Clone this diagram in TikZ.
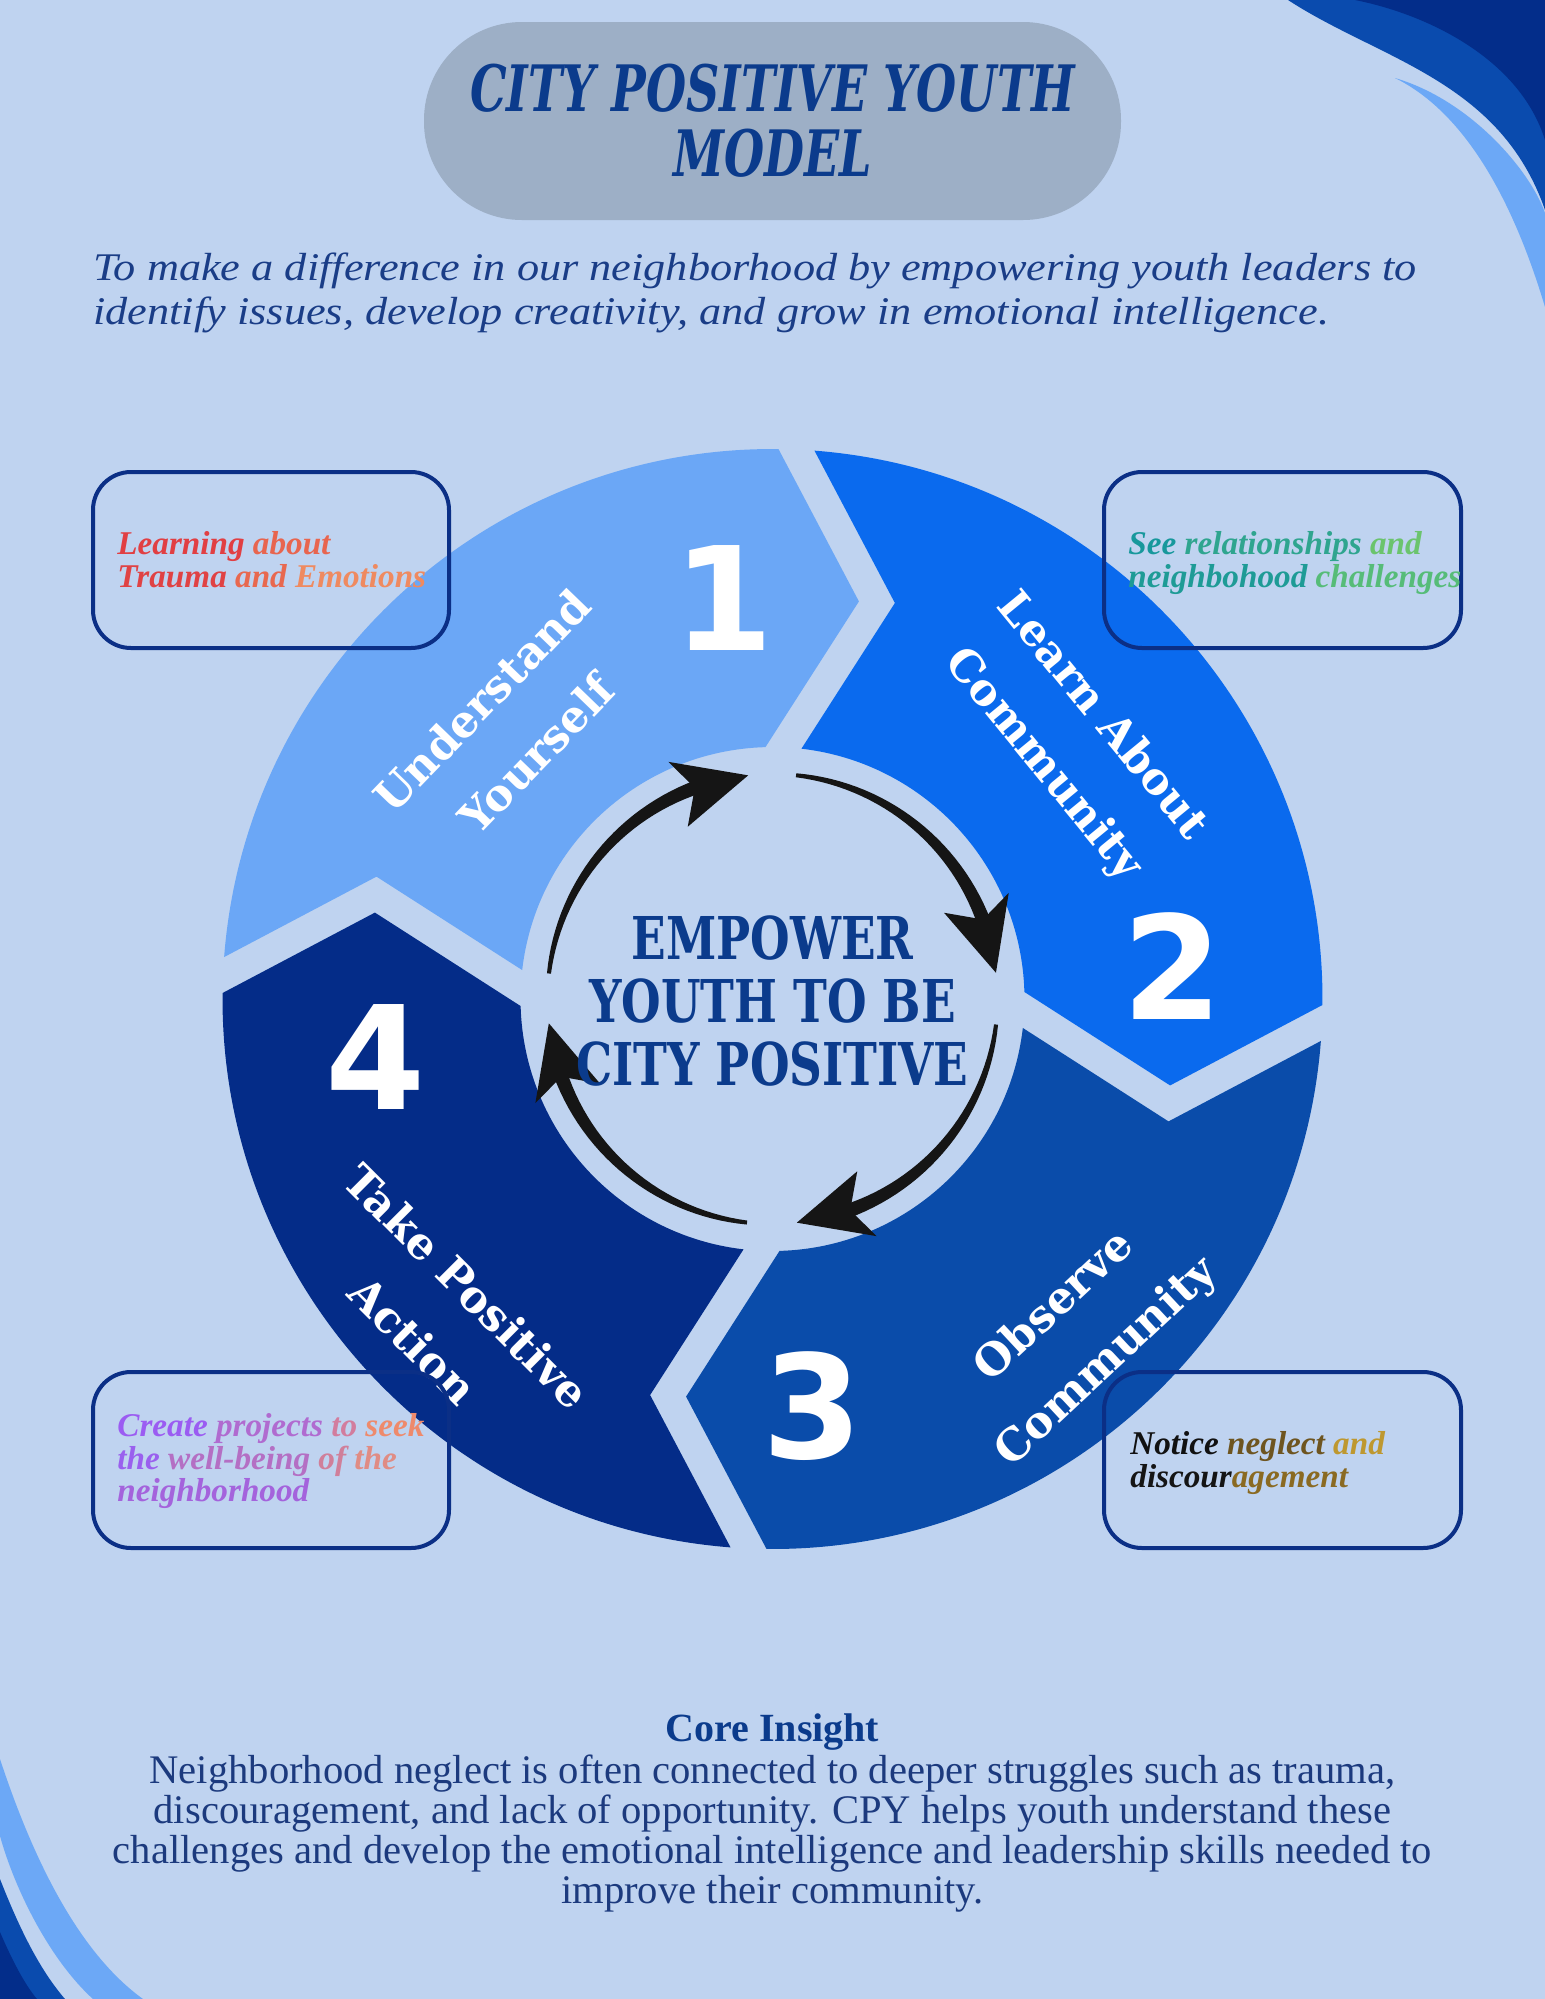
\documentclass[tikz,border=0pt]{standalone}
\usepackage{fontspec}
\setmainfont{Liberation Serif}
\newfontfamily\slabfont{DejaVu Serif}
\newfontfamily\slabnarrow{DejaVu Serif}[FakeStretch=0.77]
\newfontfamily\titlefont{DejaVu Serif}[FakeStretch=0.72]
\newfontfamily\leadfont{Liberation Serif}[FakeStretch=1.13]
\newfontfamily\numfont{DejaVu Sans}
\usetikzlibrary{calc}

\definecolor{pagebg}{HTML}{BFD3F0}
\definecolor{pillgray}{HTML}{9DAFC6}
\definecolor{navytext}{HTML}{0B3B8C}
\definecolor{leadblue}{HTML}{1A3D87}
\definecolor{bodytext}{HTML}{1C3A7E}
\definecolor{segone}{HTML}{6BA7F6}
\definecolor{segtwo}{HTML}{0A6AEE}
\definecolor{segthree}{HTML}{0A4CAA}
\definecolor{segfour}{HTML}{042C88}
\definecolor{swoopmid}{HTML}{0A4BAE}
\definecolor{swoopdark}{HTML}{032D8A}
\definecolor{swooplight}{HTML}{6CA8F6}
\definecolor{boxline}{HTML}{0B2F86}
\definecolor{arrowink}{HTML}{151515}

% ring part: #1 notched end, #2 pointed end, #3 colour
\newcommand{\ringpart}[3]{%
  \fill[#3] ($(hub)+({#1-1.875}:550)$) arc[start angle=#1-1.875, end angle=#2+1.875, radius=550]
    -- ($(hub)+({#2}:401)+({#2-90}:69)$) -- ($(hub)+({#2+4.1}:252)$)
    arc[start angle=#2+4.1, end angle=#1-4.1, radius=252]
    -- ($(hub)+({#1}:401)+({#1-90}:105)$) -- cycle;}

% curved arrow round the hub, #1 = angle of the tip
\newcommand{\looparrow}[1]{%
  \fill[arrowink] plot[domain=0:1, samples=30] ({#1+13+64.3*\x}:{232-5*\x})
    -- plot[domain=0:1, samples=30] ({#1+77.3-64.3*\x}:{223-5*\x}) -- cycle;
  \fill[arrowink] ({#1}:225) -- ({#1+17.5}:259) -- ({#1+14}:225) -- ({#1+20}:192) -- cycle;}

\begin{document}
\begin{tikzpicture}[x=0.5pt,y=0.5pt,
  steplabel/.style={text=white, align=center, inner sep=0pt, font=\fontsize{22}{38}\selectfont\slabfont\bfseries},
  stepnum/.style={text=white, inner sep=0pt, font=\fontsize{72}{72}\selectfont\numfont\bfseries},
  notebox/.style={draw=boxline, line width=2pt, rounded corners=19pt},
  notetext/.style={anchor=north west, align=left, inner sep=0pt, font=\fontsize{16.6}{16.3}\selectfont\bfseries\itshape}]
	\useasboundingbox (0,0) rectangle (1545,-1999);
	\fill[pagebg] (0,0) rectangle (1545,-1999);
	
	% corner swoops
	\fill[swoopmid] (1288,0) .. controls (1380,-60) and (1500,-80) .. (1545,-210) -- (1545,0) -- cycle;
	\fill[swoopdark] (1355,0) .. controls (1430,-15) and (1520,-60) .. (1545,-140) -- (1545,0) -- cycle;
	\fill[swooplight] (1395,-78) .. controls (1470,-100) and (1530,-170) .. (1545,-213) -- (1545,-307) .. controls (1510,-190) and (1460,-110) .. (1395,-78) -- cycle;
	\fill[swooplight] (0,-1759) .. controls (30,-1850) and (75,-1950) .. (143,-1999) -- (93,-1999) .. controls (50,-1960) and (15,-1890) .. (0,-1836) -- cycle;
	\fill[swoopmid] (0,-1879) .. controls (20,-1930) and (40,-1970) .. (65,-1999) -- (0,-1999) -- cycle;
	\fill[swoopdark] (0,-1932) .. controls (12,-1960) and (25,-1985) .. (37,-1999) -- (0,-1999) -- cycle;
	
	% heading
	\fill[pillgray, rounded corners=49pt] (424,-22) rectangle (1121,-220);
	\node[text=navytext, align=center, inner sep=0pt, font=\fontsize{32}{32.5}\selectfont\titlefont\bfseries\itshape] (title) at (772.5,-121) {CITY POSITIVE YOUTH\\MODEL};
	\node[anchor=north west, align=left, inner sep=0pt, text=leadblue, font=\fontsize{19.6}{22}\selectfont\leadfont\itshape] (mission) at (93,-252) {To make a difference in our neighborhood by empowering youth leaders to\\identify issues, develop creativity, and grow in emotional intelligence.};
	
	% cycle ring
	\coordinate (hub) at (772.5,-999);
	\ringpart{177.5}{87.5}{segone}
	\ringpart{87.5}{-2.5}{segtwo}
	\ringpart{-2.5}{-92.5}{segthree}
	\ringpart{-92.5}{-182.5}{segfour}
	
	\begin{scope}[shift={(hub)}]
		\looparrow{96.2}
		\looparrow{6.7}
		\looparrow{-83.8}
		\looparrow{-173.8}
	\end{scope}
	
	\node[text=navytext, align=center, inner sep=0pt, font=\fontsize{29.5}{31.5}\selectfont\slabnarrow\bfseries] (core) at (772.5,-1001) {EMPOWER\\YOUTH TO BE\\CITY POSITIVE};
	
	\node[steplabel, rotate=46] (lbl1) at (509,-727) {Understand\\Yourself};
	\node[steplabel, rotate=-50.6] (lbl2) at (1072,-741) {Learn About\\Community};
	\node[steplabel, rotate=43] (lbl3) at (1081,-1335) {Observe\\Community};
	\node[steplabel, rotate=-45] (lbl4) at (440,-1313) {Take Positive\\Action};
	
	\node[stepnum] (num1) at (724,-598) {1};
	\node[stepnum] (num2) at (1173,-966) {2};
	\node[stepnum] (num3) at (813,-1406) {3};
	\node[stepnum] (num4) at (376,-1057) {4};
	
	% side notes
	\draw[notebox] (93,-472) rectangle (449,-648);
	\draw[notebox] (1104,-472) rectangle (1461,-648);
	\draw[notebox] (93,-1372) rectangle (449,-1548);
	\draw[notebox] (1104,-1372) rectangle (1461,-1548);
	
	\node[notetext] (note1) at (117,-531) {\textcolor[HTML]{E13F43}{Learning} \textcolor[HTML]{E8654F}{about}\\\textcolor[HTML]{E04244}{Trauma} \textcolor[HTML]{E8684F}{and} \textcolor[HTML]{EF8A60}{Emotions}};
	\node[notetext] (note2) at (1128,-531) {\textcolor[HTML]{17989C}{See} \textcolor[HTML]{2FA58F}{relationships} \textcolor[HTML]{6BC46D}{and}\\\textcolor[HTML]{1E9B96}{neighbohood} \textcolor[HTML]{56BC78}{challenges}};
	\node[notetext] (note3) at (117,-1413) {\textcolor[HTML]{9B5CF2}{Create} \textcolor[HTML]{B06BD0}{projects} \textcolor[HTML]{D27D9E}{to} \textcolor[HTML]{EE8A6C}{seek}\\\textcolor[HTML]{9A60EE}{the} \textcolor[HTML]{B46FC4}{well-being} \textcolor[HTML]{D07F9A}{of} \textcolor[HTML]{E08C84}{the}\\\textcolor[HTML]{A463DC}{neighborhood}};
	\node[notetext] (note4) at (1130,-1431) {\textcolor[HTML]{111111}{Notice} \textcolor[HTML]{6E5520}{neglect} \textcolor[HTML]{BE9830}{and}\\\textcolor[HTML]{151515}{discour}\textcolor[HTML]{8A6A22}{agement}};
	
	% closing text
	\node[anchor=base, inner sep=0pt, text=navytext, font=\fontsize{20}{20}\selectfont\bfseries] (insighthead) at (772.5,-1741) {Core Insight};
	\node[anchor=north, align=center, inner sep=0pt, text=bodytext, font=\fontsize{20.3}{20}\selectfont] (insight) at (772.5,-1754) {Neighborhood neglect is often connected to deeper struggles such as trauma,\\discouragement, and lack of opportunity. CPY helps youth understand these\\challenges and develop the emotional intelligence and leadership skills needed to\\improve their community.};
\end{tikzpicture}
\end{document}
